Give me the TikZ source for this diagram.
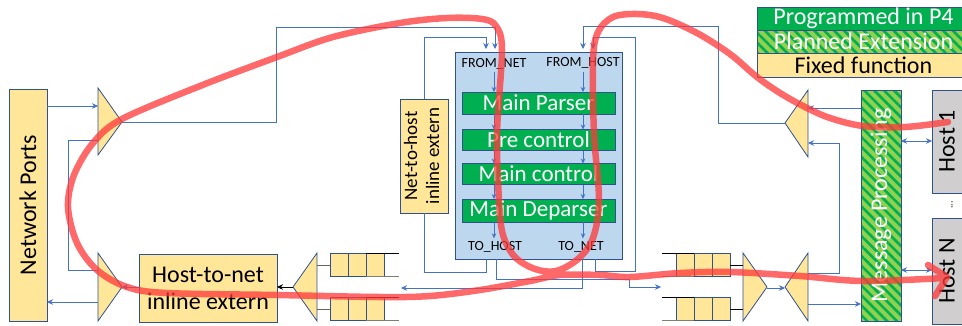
\documentclass[tikz,border=0pt]{standalone}
\usepackage{fontspec}
\setmainfont{Carlito}
\usetikzlibrary{arrows.meta,patterns.meta}
\definecolor{pgreen}{HTML}{00B050}
\definecolor{lgreen}{HTML}{92D050}
\definecolor{fixy}{HTML}{FFE699}
\definecolor{pipeb}{HTML}{BDD7EE}
\definecolor{bord}{HTML}{2F528F}
\definecolor{lineb}{HTML}{4472C4}
\definecolor{hostg}{HTML}{D0CECE}
\definecolor{redl}{HTML}{FF3838}
\definecolor{qgray}{HTML}{7F7F6F}
\newcommand{\bigf}{\fontsize{24}{25}\selectfont}
\newcommand{\stgf}{\fontsize{23}{24}\selectfont}
\newcommand{\midf}{\fontsize{19}{20}\selectfont}
\newcommand{\smallf}{\fontsize{14}{15}\selectfont}
\begin{document}
\begin{tikzpicture}[x=1pt,y=-1pt,
  box/.style={draw=bord,line width=0.8pt,inner sep=0pt,outer sep=0pt},
  fixbox/.style={box,fill=fixy},
  p4box/.style={box,fill=pgreen,text=white},
  hatchbox/.style={box,preaction={fill=lgreen},pattern={Lines[angle=-45,distance=7pt,line width=2.6pt]},pattern color=pgreen},
  hostbox/.style={box,fill=hostg},
  tri/.style={draw=bord,line width=0.8pt,fill=fixy,line join=miter},
  conn/.style={draw=lineb,line width=0.6pt},
  arr/.style={conn,-{Stealth[length=6pt,width=5.5pt]}},
  sarr/.style={conn,-{Stealth[length=5pt,width=4.5pt]}},
  darr/.style={conn,{Stealth[length=6pt,width=5.5pt]}-{Stealth[length=6pt,width=5.5pt]}},
  qcell/.style={draw=bord,line width=0.8pt,fill=fixy},
  qline/.style={line width=0.8pt},
  lbl/.style={inner sep=0pt,font=\smallf},
]
\clip (0,0) rectangle (962,325);
\fill[white] (0,0) rectangle (962,325);

% ---------- legend ----------
\node[p4box,minimum width=213,minimum height=23,font=\bigf] (leg1) at (863.5,18.5) {Programmed in P4};
\node[hatchbox,minimum width=213,minimum height=23] (leg2) at (863.5,41.5) {};
\node[text=white,font=\bigf,inner sep=0pt] (leg2t) at (863.5,41.5) {Planned Extension};
\node[fixbox,minimum width=213,minimum height=24,font=\bigf] (leg3) at (863.5,65) {Fixed function};

% ---------- main boxes ----------
\node[fixbox,minimum width=38,minimum height=232] (np) at (28,205) {\rotatebox{90}{\bigf Network Ports}};
\node[fixbox,minimum width=138,minimum height=68,align=center,font=\bigf] (h2n) at (208,288) {Host-to-net\\[2pt]inline extern};
\node[fixbox,minimum width=48,minimum height=114] (n2h) at (424,156) {\rotatebox{90}{\midf\begin{tabular}{@{}c@{}}Net-to-host\\[2pt]inline extern\end{tabular}}};

\node[box,fill=pipeb,minimum width=167,minimum height=207] (pipe) at (538.5,155.5) {};
\node[p4box,minimum width=153,minimum height=22,font=\stgf] (parser) at (538.5,103) {Main Parser};
\node[p4box,minimum width=153,minimum height=21,font=\stgf] (pre) at (538.5,140) {Pre control};
\node[p4box,minimum width=153,minimum height=21,font=\stgf] (mctl) at (538.5,174) {Main control};
\node[p4box,minimum width=153,minimum height=23,font=\stgf] (dep) at (538.5,210.5) {Main Deparser};
\node[lbl] (fnet) at (494,64) {FROM\_NET};
\node[lbl] (fhost) at (583,63) {FROM\_HOST};
\node[lbl] (thost) at (495,247) {TO\_HOST};
\node[lbl] (tnet) at (581,247) {TO\_NET};

\node[hatchbox,minimum width=40,minimum height=231] (mp) at (881,205.5) {};
\node[text=white,inner sep=0pt] (mpt) at (881,205.5) {\rotatebox{90}{\bigf Message Processing}};
\node[hostbox,minimum width=34,minimum height=103] (h1) at (949,141.5) {};
\node[inner sep=0pt] (h1t) at (947,141.5) {\rotatebox{90}{\bigf Host 1}};
\node[hostbox,minimum width=34,minimum height=106] (hn) at (949,271) {};
\node[inner sep=0pt] (hnt) at (947,271) {\rotatebox{90}{\bigf Host N}};
\node[inner sep=0pt] (dots) at (952,205) {\rotatebox{90}{\fontsize{10}{10}\selectfont ...}};

% ---------- triangles ----------
\draw[tri] (98,88) -- (122,122) -- (98,155) -- cycle;
\coordinate (d1in) at (98,106); \coordinate (d1tip) at (122,122); \coordinate (d1out) at (98,140);
\draw[tri] (98,253) -- (122,287) -- (98,321) -- cycle;
\coordinate (m2in) at (98,270); \coordinate (m2tip) at (122,287); \coordinate (m2out) at (98,302);
\draw[tri] (317,253) -- (293,287) -- (317,321) -- cycle;
\coordinate (lqtip) at (293,287);
\draw[tri] (808,90) -- (785,123) -- (808,157) -- cycle;
\coordinate (d3tip) at (785,123); \coordinate (d3a) at (808,108); \coordinate (d3b) at (808,143);
\draw[tri] (743,253) -- (767,287) -- (743,321) -- cycle;
\coordinate (m4tip) at (767,288);
\draw[tri] (808,253) -- (785,287) -- (808,321) -- cycle;
\coordinate (d4tip) at (785,288); \coordinate (d4a) at (808,273); \coordinate (d4b) at (808,304);

% ---------- queues ----------
\foreach \y in {253,297}{
  \draw[qcell] (330,\y) rectangle ++(18,23) ++(0,-23) rectangle ++(18,23) ++(0,-23) rectangle ++(18,23);
  \draw[qline,black] (366,\y) -- (399,\y);
  \draw[qline,qgray] (366,\y+23) -- (399,\y+23);
  \draw[qline,qgray!80!black] (317,\y+12) -- (330,\y+12);
  \draw[qcell] (676,\y) rectangle ++(18,23) ++(0,-23) rectangle ++(18,23) ++(0,-23) rectangle ++(18,23);
  \draw[qline,black] (662,\y) -- (694,\y);
  \draw[qline,qgray] (662,\y+23) -- (694,\y+23);
  \draw[qline,black] (730,\y+12) -- (743,\y+12);
}
\coordinate (lqin) at (401,288);
\coordinate (rqin) at (661,287);

% ---------- column coordinates ----------
\coordinate (fn1) at (486,0); \coordinate (fn2) at (495,0);
\coordinate (fh1) at (583,0); \coordinate (fh2) at (593,0);
\coordinate (th1) at (486,0); \coordinate (th2) at (496,0);
\coordinate (tn1) at (582,0); \coordinate (tn2) at (595,0);
\coordinate (cl) at (494,0); \coordinate (cr) at (583,0);

% ---------- connectors ----------
\draw[arr] (np.east |- d1in) -- (d1in);
\draw[arr] (d1tip) -- (276,122) -- (276,27) -- (495,27) -- ([yshift=3pt]pipe.north -| fn2);
\draw[conn] (d1out) -- (68,140) -- (68,270) -- (m2in);
\draw[arr] (h2n.west |- m2tip) -- (m2tip);
\draw[arr] (m2out) -- (np.east |- m2out);
\draw[black,line width=0.6pt,-{Stealth[length=6pt,width=5.5pt]}] (lqtip) -- (h2n.east |- lqtip);
\draw[arr] (pipe.south -| tn1) -- (582,288) -- (lqin);
\draw[conn] (pipe.south -| th1) -- (486,272) -| (n2h.south);
\draw[arr] (n2h.north) |- (486,37) -- ([yshift=3pt]pipe.north -| fn1);
\draw[arr] (pipe.south -| th2) -- (496,279) -- (629,279) -- (629,287) -- (rqin);
\draw[arr] (pipe.south -| tn2) -- (595,271) -- (635,271) -- (635,37) -- (593,37) -- ([yshift=3pt]pipe.north -| fh2);
\draw[arr] (d3tip) -- (718,123) -- (718,26) -- (583,26) -- ([yshift=3pt]pipe.north -| fh1);
\draw[arr] (mp.west |- d3a) -- (d3a);
\draw[arr] (d4a) -- (839,273) -- (839,143) -- (d3b);
\draw[arr] (d4b) -- (mp.west |- d4b);
\draw[arr] (m4tip) -- (d4tip);
\coordinate (hy1) at (0,141); \coordinate (hy2) at (0,270);
\draw[darr] (mp.east |- hy1) -- (h1.west |- hy1);
\draw[darr] (mp.east |- hy2) -- (hn.west |- hy2);

% inside pipeline
\foreach \c in {cl,cr}{
  \draw[sarr] ([yshift=-2pt]fnet.south -| \c) -- (parser.north -| \c);
  \draw[sarr] (parser.south -| \c) -- (pre.north -| \c);
  \draw[sarr] (pre.south -| \c) -- (mctl.north -| \c);
  \draw[sarr] (mctl.south -| \c) -- (dep.north -| \c);
  \draw[sarr] (dep.south -| \c) -- ([yshift=3pt]thost.north -| \c);
}

% ---------- red path ----------
\draw[redl,opacity=0.75,line width=6.5pt,line cap=round,line join=round]
  plot[smooth,tension=0.55] coordinates {
  (948,122) (905,127) (863,126) (830,118) (805,107) (780,93) (757,77) (730,54)
  (697,33) (663,18) (637,14) (613,17) (598,32) (593,60) (594,133) (599,200)
  (593,238) (578,259) (556,271) (535,269) (515,257) (503,235) (499,200) (497,133)
  (502,50) (496,26) (482,19) (447,18) (400,23) (333,37) (277,57) (200,86)
  (122,119) (93,143) (74,175) (68,207) (77,243) (97,270) (127,287) (167,293)
  (277,295) (380,297) (430,296) (480,290) (530,281) (560,275) (600,275) (630,277)
  (680,273) (730,272) (800,276) (863,281) (945,278)}
  (928,265) -- (947,277) -- (935,296);
\end{tikzpicture}
\end{document}
